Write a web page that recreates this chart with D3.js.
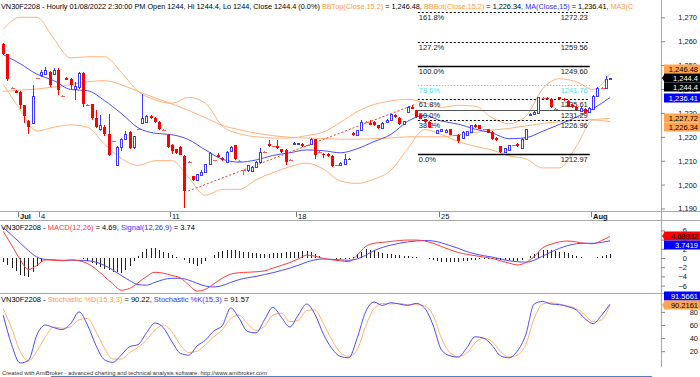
<!DOCTYPE html>
<html lang="en">
<head>
<meta charset="UTF-8">
<title>VN30F2208 Hourly</title>
<script src="https://cdnjs.cloudflare.com/ajax/libs/d3/7.8.5/d3.min.js"></script>
<style>
  body { margin: 0; background: #fff; }
  svg { display: block; font-family: "Liberation Sans", Arial, sans-serif; }
</style>
</head>
<body>
<svg width="700" height="377"></svg>
<script>
// ---------- data ----------
var open = [1258.7,1254.5,1240.6,1239.3,1238.8,1233.2,1226.5,1225.9,1244.5,1245.7,
1246.4,1247.1,1246.4,1248.1,1237.1,1244.6,1244.1,1240.1,1240.8,1246.7,
1233.5,1233.6,1227.9,1223.4,1224.0,1221.3,1218.1,1208.1,1215.7,1218.9,
1222.0,1215.7,1223.1,1225.8,1226.2,1228.6,1227.9,1226.2,1223.0,1220.6,
1216.4,1214.7,1215.6,1212.0,1209.5,1203.5,1201.8,1203.9,1205.3,1208.5,
1210.2,1212.3,1211.1,1209.5,1213.9,1216.4,1209.9,1206.0,1206.0,1205.6,
1207.4,1209.5,1213.6,1216.9,1216.0,1216.0,1214.8,1214.6,1210.4,1217.0,
1217.0,1217.1,1216.4,1217.1,1218.9,1213.6,1213.0,1213.0,1212.0,1208.1,
1208.4,1208.8,1210.9,1221.7,1220.9,1222.7,1226.2,1225.9,1226.2,1224.8,
1223.7,1226.2,1226.9,1229.3,1227.9,1225.4,1230.4,1232.5,1231.1,1229.3,
1227.3,1226.2,1224.8,1221.7,1222.3,1222.0,1223.1,1220.6,1220.9,1219.5,
1220.6,1222.0,1225.1,1224.8,1223.1,1223.1,1222.0,1219.5,1216.0,1213.8,
1214.3,1216.4,1216.9,1215.2,1219.2,1229.2,1229.7,1230.0,1236.2,1236.2,
1236.0,1231.8,1236.5,1235.8,1235.0,1233.3,1232.6,1231.0,1231.8,1230.5,
1231.8,1237.1,1240.6,1240.6,1244.0];
var high = [1259.2,1254.8,1241.0,1239.6,1239.2,1233.5,1227.2,1241.8,1244.8,1248.0,
1249.2,1247.6,1248.6,1248.6,1237.4,1245.0,1244.5,1242.9,1247.2,1247.1,
1233.8,1233.9,1231.1,1229.3,1225.0,1229.7,1218.4,1216.0,1219.5,1222.3,
1222.5,1220.5,1223.4,1238.0,1229.0,1229.0,1228.2,1226.5,1223.3,1221.0,
1217.0,1215.0,1216.0,1212.5,1209.8,1203.8,1204.6,1206.0,1208.8,1213.7,
1210.5,1213.4,1211.4,1213.9,1216.2,1216.7,1210.2,1206.3,1208.4,1207.7,
1209.8,1215.3,1213.9,1218.8,1216.3,1218.8,1215.1,1214.9,1210.7,1217.9,
1217.6,1217.4,1216.7,1219.5,1219.2,1213.9,1213.3,1213.4,1212.3,1208.4,
1209.5,1213.0,1211.2,1222.0,1223.0,1226.9,1226.5,1226.9,1226.5,1225.1,
1226.2,1227.5,1229.7,1229.6,1228.2,1226.8,1232.8,1233.5,1231.4,1229.6,
1227.6,1226.5,1225.1,1223.0,1223.4,1223.3,1223.4,1220.9,1221.2,1222.3,
1222.6,1225.1,1225.4,1225.1,1223.4,1223.4,1222.3,1219.8,1216.3,1215.5,
1216.7,1216.7,1217.2,1219.5,1223.4,1230.0,1230.6,1236.8,1236.5,1236.5,
1236.3,1232.1,1236.8,1236.1,1235.3,1233.6,1232.9,1232.3,1232.1,1232.3,
1237.4,1240.9,1240.9,1245.5,1244.4];
var low = [1254.2,1243.5,1240.2,1238.2,1231.8,1225.9,1221.3,1225.2,1244.2,1245.2,
1246.0,1241.0,1245.8,1237.4,1236.8,1243.6,1240.1,1235.3,1240.2,1232.5,
1233.2,1226.9,1223.5,1222.3,1220.5,1212.0,1217.8,1207.8,1214.0,1218.5,
1215.0,1214.8,1222.8,1225.5,1225.9,1227.6,1225.9,1222.8,1222.7,1215.3,
1213.0,1212.9,1212.2,1190.2,1209.2,1201.5,1201.5,1203.6,1205.0,1208.2,
1209.9,1211.0,1210.0,1209.2,1213.6,1210.3,1209.6,1204.0,1205.3,1205.3,
1207.1,1209.2,1213.3,1215.7,1215.7,1215.0,1213.3,1208.4,1210.1,1216.7,
1216.8,1215.9,1216.1,1216.8,1210.9,1213.3,1211.0,1211.5,1207.5,1207.8,
1208.1,1208.5,1210.3,1220.3,1220.6,1222.4,1225.9,1224.8,1224.5,1223.4,
1223.4,1225.9,1226.6,1228.0,1225.1,1225.1,1230.1,1231.5,1228.0,1227.3,
1225.9,1223.8,1224.5,1221.4,1222.0,1221.7,1220.6,1220.3,1217.6,1219.2,
1220.3,1221.7,1223.8,1223.1,1222.8,1221.4,1218.8,1218.2,1213.3,1213.3,
1214.0,1216.1,1215.9,1214.9,1218.9,1228.9,1229.4,1229.7,1235.9,1235.7,
1232.0,1231.5,1235.7,1234.9,1232.3,1232.1,1231.1,1230.7,1229.8,1230.2,
1231.5,1236.8,1240.3,1239.8,1244.0];
var close = [1254.5,1244.0,1240.6,1238.4,1233.2,1228.7,1224.1,1237.1,1244.5,1247.1,
1247.8,1241.5,1248.1,1239.7,1237.1,1243.9,1241.5,1241.1,1246.8,1233.6,
1233.5,1227.9,1224.1,1225.1,1221.3,1212.3,1218.1,1215.7,1218.9,1221.0,
1215.5,1220.2,1223.1,1227.9,1228.6,1227.9,1226.2,1223.1,1223.0,1215.7,
1213.9,1213.2,1212.5,1197.3,1209.5,1201.8,1204.3,1205.3,1208.5,1213.4,
1210.2,1211.4,1210.3,1213.6,1215.7,1210.6,1209.9,1206.0,1208.1,1207.4,
1209.5,1213.6,1213.6,1216.0,1216.0,1215.3,1213.6,1209.5,1210.4,1217.6,
1217.4,1216.2,1216.4,1219.2,1212.5,1213.6,1212.3,1211.8,1207.8,1208.1,
1209.2,1210.9,1210.6,1220.6,1222.7,1226.2,1226.2,1225.1,1224.8,1223.7,
1225.9,1227.2,1229.4,1228.3,1225.4,1226.5,1232.5,1231.8,1228.3,1227.6,
1226.2,1224.1,1224.8,1222.7,1223.1,1223.0,1220.9,1220.6,1218.1,1222.0,
1222.3,1224.8,1224.1,1223.4,1223.1,1221.7,1219.2,1218.5,1213.8,1215.2,
1216.4,1216.4,1216.2,1219.2,1223.1,1229.7,1230.3,1236.5,1236.2,1236.0,
1232.3,1231.8,1236.0,1235.2,1232.6,1232.4,1231.4,1232.0,1230.1,1232.0,
1237.1,1240.6,1240.6,1244.1,1244.4];

// price-panel indicator lines, one value every 4 bars
var lineBars = d3.range(0, 145, 4);
var maLine = [1254.4,1250.6,1246.2,1243.5,1239.8,1239.3,1235.2,1229.8,1223.8,1221.5,1220.9,1218.8,1214.5,
  1210.6,1209.4,1210.3,1212.2,1213.3,1214.5,1214.2,1213.3,1215.0,1218.0,1221.0,1226.5,1229.0,1226.6,
  1225.3,1223.2,1221.6,1219.2,1219.6,1222.3,1225.2,1228.2,1231.8,1236.41];
var bbTop = [1265,1270,1270,1261,1253,1253.5,1253.5,1247,1239,1235.5,1234,1236.5,1234,1224.5,1221.3,1220,
  1219.5,1219.5,1220.5,1222,1226,1230.5,1233.5,1235,1235.7,1234.2,1232.3,1233.2,1232.8,1228,1225.5,
  1228.5,1240,1244.3,1243,1239.8,1246.48];
var bbBot = [1242,1231.5,1222.4,1224,1225,1224,1217,1211,1208,1210,1210,1203,1195.5,1198,1198,1202,1205,
  1207.5,1209,1206.5,1201.5,1200.5,1202.3,1206,1215,1223,1221,1218,1216,1214.5,1212,1210.8,1207,1207,
  1216,1227,1226.34];
var ma3Line = [1239,1239.5,1240,1240.8,1241.8,1243,1243.5,1241.8,1239,1236.3,1233.8,1231,1228,1224.8,1223,
  1221.5,1220.5,1219.8,1219.5,1219.3,1219,1219,1219.2,1219.5,1220,1220,1220,1220.8,1221.8,1222.8,1223.5,
  1224.5,1225.6,1226.3,1226.9,1227.2,1227.72];

// trend line and Fibonacci retracement
var trendBars = [43.9, 98.1];
var trendValues = [1197.3, 1233.8];
var fibFromBar = 98.4, fibToBar = 139.2;
var fibPct = ["161.8%", "127.2%", "100.0%", "78.6%", "61.8%", "50.0%", "38.2%", "0.0%"];
var fibValue = [1272.23, 1259.56, 1249.60, 1241.76, 1235.61, 1231.29, 1226.96, 1212.97];

// MACD and stochastic, one value every 2 bars
var subBars = d3.range(0, 145, 2);
var macdLine = [5.8,2.8,-0.3,-2.5,-1.6,-0.4,-0.5,-0.6,-0.4,-0.6,-1.2,-2.4,-4.0,-5.6,-7.0,-6.6,-5.4,-4.0,-3.1,-3.3,
  -3.8,-4.3,-5.8,-7.2,-6.8,-5.6,-4.4,-3.5,-3.2,-3.1,-3.0,-2.8,-2.2,-1.6,-1.0,-0.2,0.6,0.4,-0.1,-0.4,
  -0.6,-0.8,0.6,2.5,3.2,3.4,3.6,3.8,3.9,3.9,3.7,3.2,2.5,1.8,1.2,0.8,0.5,0.2,-0.1,-0.6,
  -1.1,-1.5,-1.0,0.3,2.2,3.0,3.5,3.7,3.5,3.2,3.1,3.8,4.69];
var signalLine = [6.6,5.0,3.3,1.6,0.2,-0.3,-0.4,-0.5,-0.5,-0.5,-0.6,-0.9,-1.6,-2.6,-3.8,-4.9,-5.8,-5.9,-5.3,-4.7,
  -4.4,-4.4,-4.8,-5.5,-6.1,-6.3,-6.0,-5.3,-4.7,-4.3,-4.0,-3.6,-3.2,-2.7,-2.2,-1.6,-0.9,-0.4,-0.2,-0.3,
  -0.4,-0.5,-0.2,0.6,1.6,2.3,2.8,3.2,3.5,3.7,3.8,3.7,3.3,2.7,2.1,1.4,0.9,0.5,0.2,-0.2,
  -0.6,-0.8,-0.9,-0.5,0.4,1.3,2.1,2.7,3.1,3.2,3.2,3.4,3.74];
var macdHist = [-0.8,-1.5,-2.2,-2.9,-3.6,-3.9,-4.1,-3.0,-1.8,-0.9,
  -0.1,-0.1,-0.1,-0.1,-0.1,0.0,0.1,0.0,-0.1,-0.3,
  -0.6,-1.0,-1.5,-2.0,-2.4,-2.7,-3.0,-3.1,-3.2,-2.5,
  -1.7,-0.6,0.4,1.2,1.9,2.1,2.2,1.8,1.4,1.0,
  0.6,0.3,0.1,-0.5,-1.0,-1.4,-1.7,-1.2,-0.7,0.0,
  0.7,1.2,1.6,1.7,1.8,1.7,1.5,1.3,1.2,1.1,
  1.0,0.9,0.8,0.9,1.0,1.0,1.1,1.2,1.2,1.3,
  1.4,1.5,1.5,1.2,0.8,0.4,0.1,0.0,-0.1,-0.2,
  -0.2,-0.3,-0.3,0.3,0.8,1.4,1.9,1.8,1.6,1.3,
  1.1,0.9,0.8,0.7,0.6,0.5,0.4,0.3,0.2,0.0,
  -0.1,-0.3,-0.5,-0.7,-0.8,-0.9,-0.9,-0.9,-0.9,-0.7,
  -0.6,-0.5,-0.4,-0.3,-0.3,-0.3,-0.3,-0.4,-0.4,-0.5,
  -0.5,-0.6,-0.7,-0.4,-0.1,0.4,0.8,1.3,1.8,1.8,
  1.7,1.5,1.4,1.2,1.0,0.7,0.4,0.2,0.0,-0.1,
  -0.1,0.2,0.4,0.7,0.95];
var stochK = [75,30,2,6,45,60,56,53,62,80,60,29,7,3,14,27,30,48,63,56,
  35,17,14,28,37,51,59,86,70,50,48,68,87,72,57,75,92,76,46,24,
  12,10,40,80,95,90,94,92,90,93,86,60,22,13,11,25,42,40,29,13,
  10,20,45,92,96,92,91,88,83,70,62,75,91.57];
var stochD = [85,55,20,5,20,42,57,55,57,68,70,50,25,8,8,18,26,37,52,60,
  50,30,18,20,30,42,53,70,75,62,52,58,75,78,65,67,82,83,62,37,
  18,12,22,58,85,93,92,93,91,91,89,75,40,18,12,17,33,40,35,20,
  11,14,30,70,92,94,92,89,85,76,65,68,90.22];

// axes
var dateText = ["Jul", "4", "11", "18", "25", "Aug"];
var dateFirstBar = [4, 9, 40, 70, 104, 140];
var priceTicks = [1190, 1200, 1210, 1220, 1230, 1240, 1250, 1260, 1270];
var macdTicks = [-6, -4, -2, 0, 2, 4, 6];
var stochTicks = [20, 40, 60, 80];

// last-value markers on the right scales
var mainMarkValue = [1246.48, 1244.4, 1244.4, 1236.41, 1227.72, 1226.34];
var mainMarkKind  = ["band", "last", "price", "ma", "ma3", "band"];
var macdMarkValue = [4.68982, 3.7419];
var macdMarkKind  = ["macd", "signal"];
var stochMarkValue = [91.5661, 90.2161];
var stochMarkKind  = ["k", "d"];

[open, high, low, close, macdHist].forEach(function (a) { if (a.length !== 145) throw new Error('bars ' + a.length); });
[maLine, bbTop, bbBot, ma3Line].forEach(function (a) { if (a.length !== lineBars.length) throw new Error('line ' + a.length); });
[macdLine, signalLine, stochK, stochD].forEach(function (a) { if (a.length !== subBars.length) throw new Error('sub ' + a.length); });

// ---------- layout ----------
var svg = d3.select('svg');
var plotW = 661;
var mainBottom = 211.5, macdTop = 220.5, stochTop = 293.3, stochBottom = 367;

var ORANGE_LINE = '#ffb27a', ORANGE_TEXT = '#ff9a3c', ORANGE_BOX = '#ffa54f';
var BLUE_LINE = '#4b4bff', RED = '#ff0000';

var x = d3.scaleLinear().domain([0, 144]).range([3.2, 610]);
var yMain = d3.scaleLinear().domain([1190, 1270]).range([208.5, 17.3]);
var yMacd = d3.scaleLinear().domain([-6, 6]).range([285.6, 230.4]);
var yStoch = d3.scaleLinear().domain([0, 100]).range([364.3, 298.8]);

var defs = svg.append('defs');
function clipRect(id, y0, y1) {
    defs.append('clipPath').attr('id', id).append('rect')
        .attr('x', 0).attr('y', y0).attr('width', plotW).attr('height', y1 - y0);
}
clipRect('cMain', 0, mainBottom);
clipRect('cMacd', macdTop, stochTop);
clipRect('cStoch', stochTop, stochBottom);

// frame
var frame = svg.append('g').attr('stroke', '#a8a8a8').attr('stroke-width', 1).attr('shape-rendering', 'crispEdges');
[mainBottom, macdTop, stochTop].forEach(function (yy) {
    frame.append('line').attr('x1', 0).attr('x2', 700).attr('y1', yy).attr('y2', yy);
});
frame.append('line').attr('x1', plotW + 0.5).attr('x2', plotW + 0.5).attr('y1', 0).attr('y2', stochBottom);

// ---------- price panel ----------
var gMain = svg.append('g').attr('clip-path', 'url(#cMain)');

function priceLine(vals, color) {
    gMain.append('path').datum(vals)
        .attr('fill', 'none').attr('stroke', color).attr('stroke-width', 1)
        .attr('d', d3.line().x(function (d, i) { return x(lineBars[i]); })
            .y(function (d) { return yMain(d); }).curve(d3.curveMonotoneX));
}
priceLine(bbTop, ORANGE_LINE);
priceLine(bbBot, ORANGE_LINE);
priceLine(ma3Line, ORANGE_LINE);
priceLine(maLine, BLUE_LINE);

// dotted trend line
gMain.append('line')
    .attr('x1', x(trendBars[0])).attr('y1', yMain(trendValues[0]))
    .attr('x2', x(trendBars[1])).attr('y2', yMain(trendValues[1]))
    .attr('stroke', '#ff3030').attr('stroke-width', 1).attr('stroke-dasharray', '2,2');

// Fibonacci retracement
var gFib = gMain.append('g').attr('font-size', '7.5px');
fibPct.forEach(function (p, i) {
    var yy = Math.round(yMain(fibValue[i])) + 0.5;
    var cyan = p === '78.6%';
    var solid = p === '100.0%' || p === '0.0%' || p === '50.0%';
    gFib.append('line')
        .attr('x1', x(fibFromBar)).attr('x2', x(fibToBar)).attr('y1', yy).attr('y2', yy)
        .attr('stroke', cyan ? '#55dede' : (p === '50.0%' ? '#555' : '#000'))
        .attr('stroke-width', (p === '100.0%' || p === '0.0%') ? 1.6 : 1)
        .attr('stroke-dasharray', solid ? null : (cyan ? '1.5,1.5' : '2,2'));
    var col = cyan ? '#55dede' : '#222';
    gFib.append('text').attr('x', x(fibFromBar) + 1).attr('y', yy + 7.2).attr('fill', col).text(p);
    gFib.append('text').attr('x', x(fibToBar) - 2).attr('y', yy + 7.2).attr('fill', col)
        .attr('text-anchor', 'end').text(fibValue[i].toFixed(2));
});

// candles
var gC = gMain.append('g').attr('shape-rendering', 'crispEdges');
d3.range(open.length).forEach(function (i) {
    var r = Math.round(x(i)), cx = r + 0.5;
    var up = close[i] > open[i], down = close[i] < open[i];
    var col = up ? '#3c3cff' : (down ? RED : '#ff5a5a');
    gC.append('line').attr('x1', cx).attr('x2', cx)
        .attr('y1', yMain(high[i])).attr('y2', yMain(low[i]))
        .attr('stroke', col).attr('stroke-width', 1);
    if (!up && !down) {
        var yd = Math.round(yMain(close[i])) + 0.5;
        gC.append('line').attr('x1', r - 1.5).attr('x2', r + 2.5).attr('y1', yd).attr('y2', yd).attr('stroke', col);
        return;
    }
    var top = Math.round(yMain(Math.max(open[i], close[i]))), bot = Math.round(yMain(Math.min(open[i], close[i])));
    if (up) {
        gC.append('rect').attr('x', r - 0.5).attr('y', top + 0.5)
            .attr('width', 2).attr('height', Math.max(1, bot - top))
            .attr('fill', '#fff').attr('stroke', col);
    } else {
        gC.append('rect').attr('x', r - 1).attr('y', top)
            .attr('width', 3).attr('height', Math.max(1, bot - top))
            .attr('fill', col);
    }
});

// price axis
var axMain = svg.append('g').attr('transform', 'translate(' + plotW + ',0)')
    .call(d3.axisRight(yMain).tickValues(priceTicks).tickSize(4).tickFormat(d3.format(',')));
function styleAxis(g, textX) {
    g.select('.domain').remove();
    g.selectAll('.tick line').attr('stroke', '#888');
    g.selectAll('.tick text').attr('x', textX).attr('text-anchor', 'end')
        .attr('fill', '#111').attr('font-size', '7.5px')
        .attr('font-family', '"Liberation Sans", Arial, sans-serif');
}
styleAxis(axMain, 36);

// date axis
var gDate = svg.append('g').attr('font-size', '7.5px');
dateText.forEach(function (t, i) {
    var tx = Math.round(x(dateFirstBar[i] - 0.5)) + 0.5;
    gDate.append('line').attr('x1', tx).attr('x2', tx).attr('y1', mainBottom).attr('y2', mainBottom + 5)
        .attr('stroke', '#777').attr('shape-rendering', 'crispEdges');
    gDate.append('text').attr('x', tx + 1.5).attr('y', mainBottom + 7.9)
        .attr('font-weight', isNaN(+t) ? 'bold' : 'normal').attr('fill', '#111').text(t);
});

// ---------- MACD panel ----------
var gMacd = svg.append('g').attr('clip-path', 'url(#cMacd)');
gMacd.append('g').attr('shape-rendering', 'crispEdges').selectAll('line').data(macdHist).enter().append('line')
    .attr('x1', function (d, i) { return Math.round(x(i)) + 0.5; })
    .attr('x2', function (d, i) { return Math.round(x(i)) + 0.5; })
    .attr('y1', yMacd(0)).attr('y2', function (d) { return yMacd(d); })
    .attr('stroke', '#222');
function subLine(g, yS, vals, color) {
    g.append('path').datum(vals).attr('fill', 'none').attr('stroke', color).attr('stroke-width', 1)
        .attr('d', d3.line().x(function (d, i) { return x(subBars[i]); })
            .y(function (d) { return yS(d); }).curve(d3.curveMonotoneX));
}
subLine(gMacd, yMacd, signalLine, BLUE_LINE);
subLine(gMacd, yMacd, macdLine, '#ff3a3a');

var axMacd = svg.append('g').attr('transform', 'translate(' + plotW + ',0)')
    .call(d3.axisRight(yMacd).tickValues(macdTicks).tickSize(4));
styleAxis(axMacd, 26);

// ---------- stochastic panel ----------
var gSt = svg.append('g').attr('clip-path', 'url(#cStoch)');
subLine(gSt, yStoch, stochD, '#ffb070');
subLine(gSt, yStoch, stochK, BLUE_LINE);
var axSt = svg.append('g').attr('transform', 'translate(' + plotW + ',0)')
    .call(d3.axisRight(yStoch).tickValues(stochTicks).tickSize(4));
styleAxis(axSt, 37);

// ---------- titles ----------
function title(yy, size, parts) {
    var t = svg.append('text').attr('x', 1).attr('y', yy).attr('font-size', size);
    parts.forEach(function (p) { t.append('tspan').attr('fill', p[1]).text(p[0]); });
}
title(9.3, '7.3px', [
    ['VN30F2208 - Hourly 01/08/2022 2:30:00 PM Open 1244, Hi 1244.4, Lo 1244, Close 1244.4 (0.0%) ', '#000'],
    ['BBTop(Close,15,2)', ORANGE_TEXT], [' = 1,246.48, ', '#000'],
    ['BBBot(Close,15,2)', ORANGE_TEXT], [' = 1,226.34, ', '#000'],
    ['MA(Close,15)', '#3030ff'], [' = 1,236.41, ', '#000'],
    ['MA3(C', ORANGE_TEXT]
]);
title(229.5, '7.5px', [
    ['VN30F2208 - ', '#000'], ['MACD(12,26)', '#ff3a3a'], [' = 4.69, ', '#000'],
    ['Signal(12,26,9)', '#3030ff'], [' = 3.74', '#000']
]);
title(302, '7.5px', [
    ['VN30F2208 - ', '#000'], ['Stochastic %D(15,3,3)', ORANGE_TEXT], [' = 90.22, ', '#000'],
    ['Stochastic %K(15,3)', '#3030ff'], [' = 91.57', '#000']
]);

// ---------- value markers on the right ----------
var markStyle = {
    band: [ORANGE_BOX, '#000'], ma3: [ORANGE_BOX, '#000'], last: ['#000', '#fff'], price: ['#000', '#fff'],
    ma: ['#0000ff', '#fff'], macd: ['#ff0000', '#000'], signal: ['#0000ff', '#fff'],
    k: ['#0000ff', '#fff'], d: [ORANGE_BOX, '#000']
};
function markers(values, kinds, yS, anchorKind, fmt) {
    var items = values.map(function (v, i) { return { v: v, kind: kinds[i], i: i }; });
    items.sort(function (a, b) {
        return (b.v - a.v) || ((b.kind === anchorKind) - (a.kind === anchorKind)) || (a.i - b.i);
    });
    var h = 9, ai = items.findIndex(function (d) { return d.kind === anchorKind; });
    items[ai].y = yS(items[ai].v);
    for (var k = ai - 1; k >= 0; k--) items[k].y = Math.min(yS(items[k].v), items[k + 1].y - h);
    for (k = ai + 1; k < items.length; k++) items[k].y = Math.max(yS(items[k].v), items[k - 1].y + h);
    var g = svg.append('g').attr('font-size', '7.5px');
    items.forEach(function (d) {
        var st = markStyle[d.kind];
        var yy = Math.round(d.y);
        if (d.kind === anchorKind) {
            g.append('path').attr('d', 'M' + (plotW + 1) + ',' + yy + 'L' + (plotW + 4) + ',' + (yy - 4.5) +
                'L' + (plotW + 4) + ',' + (yy + 4.5) + 'Z').attr('fill', st[0]);
        }
        g.append('rect').attr('x', plotW + 3).attr('y', yy - 4.5).attr('width', 700 - plotW - 3).attr('height', 9)
            .attr('fill', st[0]);
        g.append('text').attr('x', 698).attr('y', yy + 2.7).attr('text-anchor', 'end')
            .attr('fill', st[1]).text(fmt(d.v));
    });
}
markers(mainMarkValue, mainMarkKind, yMain, 'last', d3.format(','));
markers(macdMarkValue, macdMarkKind, yMacd, 'macd', String);
markers(stochMarkValue, stochMarkKind, yStoch, 'd', String);

// ---------- footer ----------
svg.append('text').attr('x', 2).attr('y', 374.5).attr('font-size', '5.8px').attr('fill', '#333')
    .text('Created with AmiBroker - advanced charting and technical analysis software. http://www.amibroker.com');
svg.append('line').attr('x1', 51).attr('x2', 652).attr('y1', 376.5).attr('y2', 376.5)
    .attr('stroke', '#4f81bd').attr('stroke-width', 1);
</script>
</body>
</html>
